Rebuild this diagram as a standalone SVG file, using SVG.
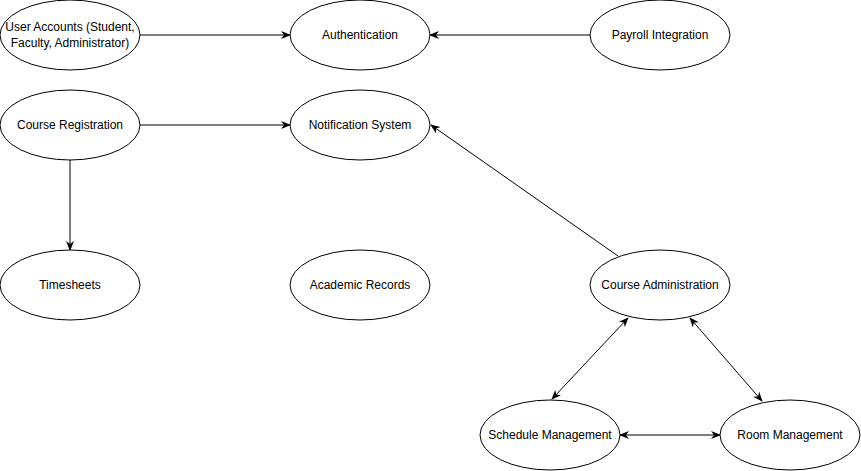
<svg xmlns="http://www.w3.org/2000/svg" width="861" height="471" viewBox="0 0 861 471">
<style>
ellipse{fill:#fff;stroke:#000;stroke-width:1}
text{font-family:"Liberation Sans",Arial,sans-serif;font-size:12px;fill:#000;text-anchor:middle;dominant-baseline:central}
.c{stroke:#000;stroke-width:1;fill:none}
</style>
<defs>
<marker id="a" viewBox="0 0 10 10" refX="9" refY="5" markerWidth="10" markerHeight="10" markerUnits="userSpaceOnUse" orient="auto-start-reverse">
<path d="M0,1 L10,5 L0,9 L3,5 Z" fill="#000"/>
</marker>
</defs>
<g id="connectors">
<line class="c" x1="140" y1="35" x2="290" y2="35" marker-end="url(#a)"/>
<line class="c" x1="590" y1="35" x2="430" y2="35" marker-end="url(#a)"/>
<line class="c" x1="140" y1="125" x2="290" y2="125" marker-end="url(#a)"/>
<line class="c" x1="70" y1="160" x2="70" y2="250" marker-end="url(#a)"/>
<line class="c" x1="618" y1="256" x2="431" y2="125" marker-end="url(#a)"/>
<line class="c" x1="552" y1="399" x2="628" y2="318" marker-start="url(#a)" marker-end="url(#a)"/>
<line class="c" x1="762" y1="401" x2="690" y2="318" marker-start="url(#a)" marker-end="url(#a)"/>
<line class="c" x1="620" y1="435" x2="720" y2="435" marker-start="url(#a)" marker-end="url(#a)"/>
</g>
<g id="user-accounts"><ellipse cx="70" cy="35" rx="70" ry="35"/><text x="70" y="27">User Accounts (Student,</text><text x="70" y="43">Faculty, Administrator)</text></g>
<g id="authentication"><ellipse cx="360" cy="35" rx="70" ry="35"/><text x="360" y="35">Authentication</text></g>
<g id="payroll"><ellipse cx="660" cy="35" rx="70" ry="35"/><text x="660" y="35">Payroll Integration</text></g>
<g id="course-registration"><ellipse cx="70" cy="125" rx="70" ry="35"/><text x="70" y="125">Course Registration</text></g>
<g id="notification"><ellipse cx="360" cy="125" rx="70" ry="35"/><text x="360" y="125">Notification System</text></g>
<g id="timesheets"><ellipse cx="70" cy="285" rx="70" ry="35"/><text x="70" y="285">Timesheets</text></g>
<g id="academic-records"><ellipse cx="360" cy="285" rx="70" ry="35"/><text x="360" y="285">Academic Records</text></g>
<g id="course-administration"><ellipse cx="660" cy="285" rx="70" ry="35"/><text x="660" y="285">Course Administration</text></g>
<g id="schedule-management"><ellipse cx="550" cy="435" rx="70" ry="35"/><text x="550" y="435">Schedule Management</text></g>
<g id="room-management"><ellipse cx="790" cy="435" rx="70" ry="35"/><text x="790" y="435">Room Management</text></g>
</svg>
